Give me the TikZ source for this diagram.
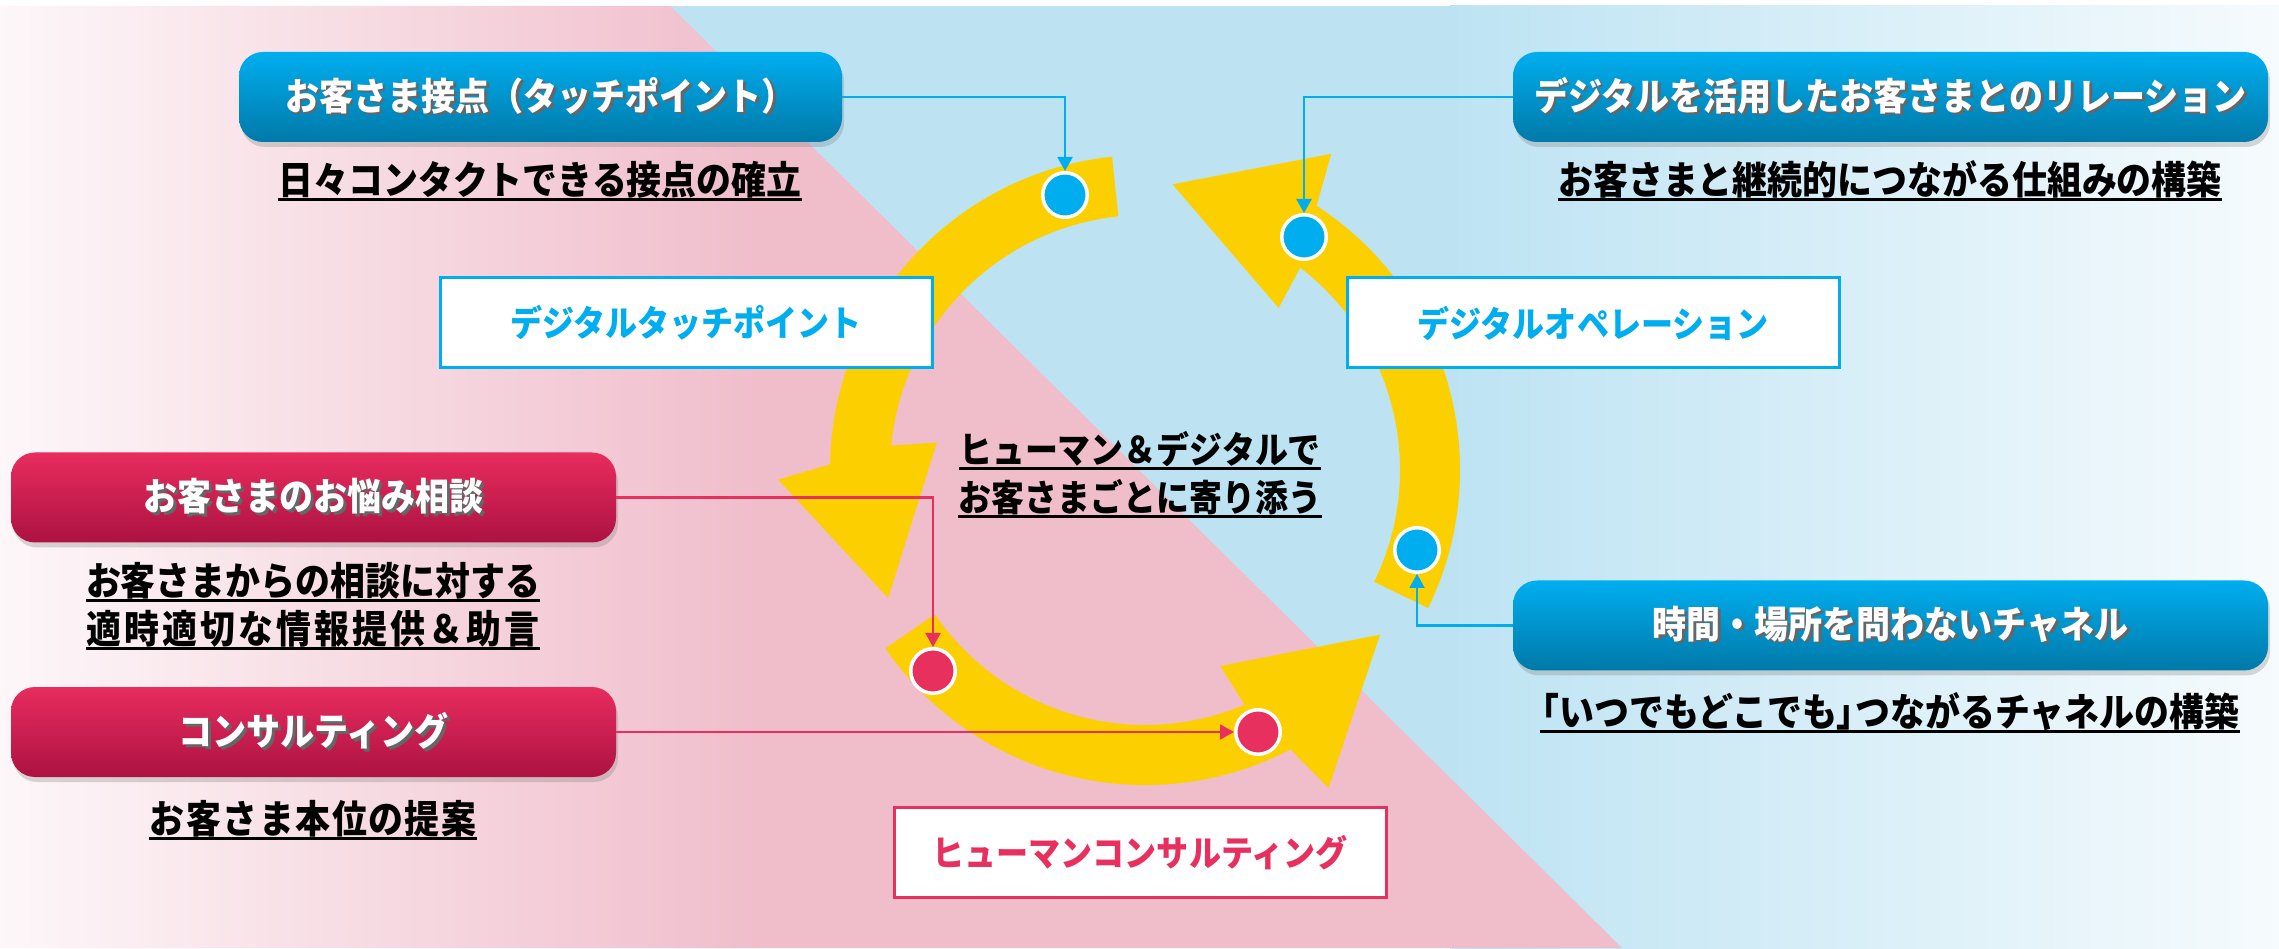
\documentclass[tikz,border=0pt]{standalone}
\usepackage{fontspec}
\setmainfont{Noto Sans CJK JP}
\newfontfamily\cjkc{Noto Sans CJK JP}[FakeStretch=0.9]
\usetikzlibrary{arrows.meta,shadows,calc}
\definecolor{cyanA}{HTML}{00AEEF}
\definecolor{cyanB}{HTML}{0079A8}
\definecolor{roseA}{HTML}{E82C5E}
\definecolor{roseB}{HTML}{AC1242}
\definecolor{rose}{HTML}{E8305E}
\definecolor{bgpink}{HTML}{F0BDCB}
\definecolor{pinkEnd}{HTML}{FDF7F9}
\definecolor{bgblue}{HTML}{BDE3F3}
\definecolor{blueEnd}{HTML}{F6FBFD}
\definecolor{ringc}{HTML}{FCD000}
\newcommand\shtxt[1]{\makebox[0pt][l]{\hspace{1.3pt}\raisebox{-1.3pt}{\color{black!60}#1}}#1}
\begin{document}
\begin{tikzpicture}[x=0.5pt,y=0.5pt,
  headbox/.style={rounded corners=12pt, inner sep=0pt, text=white,
    minimum width=#1, minimum height=45pt,
    font=\cjkc\bfseries\fontsize{18.9pt}{22pt}\selectfont,
    drop shadow={shadow xshift=1pt,shadow yshift=-2.5pt,opacity=0.3}},
  bluebox/.style={headbox=#1, top color=cyanA, bottom color=cyanB},
  pinkbox/.style={headbox=#1, top color=roseA, bottom color=roseB},
  labelbox/.style={draw=#1, fill=white, line width=1.5pt, text=#1, inner sep=0pt,
    minimum width=246pt, minimum height=45pt,
    font=\cjkc\bfseries\fontsize{17.8pt}{21pt}\selectfont},
  sub/.style={inner sep=0pt, anchor=base, font=\cjkc\bfseries\fontsize{19.4pt}{23pt}\selectfont},
  ctr/.style={inner sep=0pt, anchor=base, font=\cjkc\bfseries\fontsize{18.3pt}{22pt}\selectfont},
  uline/.style={line width=1.5pt, black},
  dot/.style={circle, fill=#1, draw=white, line width=1.75pt, minimum size=22.25pt, inner sep=0pt},
  conn/.style={draw=#1, line width=1.1pt, -{Triangle[length=7pt,width=7.5pt]}}
]
\useasboundingbox (0,0) rectangle (2279,948);
% background
\fill[white] (0,0) rectangle (2279,948);
\fill[bgblue] (0,0) rectangle (2279,942);
\shade[left color=bgblue, right color=blueEnd] (1450,0) rectangle (2279,942);
\begin{scope}
  \clip (0,0) -- (0,942) -- (670,942) -- (1622,0) -- cycle;
  \fill[bgpink] (0,0) rectangle (1700,942);
  \shade[left color=pinkEnd, right color=bgpink] (0,0) rectangle (760,942);
\end{scope}
% circular arrows
\begin{scope}[shift={(1145,478)}]
\foreach \T in {96,214.5,334}{
  \fill[ringc] ({\T}:315) arc[start angle=\T, end angle=\T+83, radius=315]
    -- ({\T+85.5}:367) -- ({\T+110.5}:287) -- ({\T+76.5}:210) -- ({\T+78.5}:255)
    arc[start angle=\T+78.5, end angle=\T, radius=255] -- cycle;
}
\end{scope}
% header boxes
\node[bluebox=301.5pt] (bt) at (540.5,851) {\shtxt{お客さま接点（タッチポイント）}};
\node[bluebox=377.5pt] (bt2) at (1890.5,851) {\shtxt{デジタルを活用したお客さまとのリレーション}};
\node[bluebox=377.5pt] (br) at (1890.5,322.5) {\shtxt{時間・場所を問わないチャネル}};
\node[pinkbox=302.5pt] (pk1) at (313.5,450.5) {\shtxt{お客さまのお悩み相談}};
\node[pinkbox=302.5pt] (pk2) at (313.5,216) {\shtxt{コンサルティング}};
% label boxes
\node[labelbox=cyanA] (dtp) at (686,625) {デジタルタッチポイント};
\node[labelbox=cyanA] (dop) at (1593,625) {デジタルオペレーション};
\node[labelbox=rose] (hc) at (1140,95.5) {ヒューマンコンサルティング};
% subtitles
\node[sub] (st1) at (540,753) {日々コンタクトできる接点の確立};
\node[sub] (st2) at (1890,753) {お客さまと継続的につながる仕組みの構築};
\node[sub] (sp1a) at (313,352) {お客さまからの相談に対する};
\node[sub] (sp1b) at (313,304) {\addfontfeature{LetterSpace=8}適時適切な情報提供＆助言\hspace{-0.08em}};
\node[sub] (sp2) at (313,115) {\addfontfeature{LetterSpace=4}お客さま本位の提案\hspace{-0.04em}};
\node[sub] (sr) at (1890,222) {\hspace{-0.42em}「いつでもどこでも」\hspace{-0.42em}つながるチャネルの構築};
\node[ctr] (ct1) at (1140,484) {ヒューマン＆デジタルで};
\node[ctr] (ct2) at (1140,436) {お客さまごとに寄り添う};
\foreach \n in {st1,st2,sp1a,sp1b,sp2,sr,ct1,ct2}{
  \draw[uline] ([yshift=-2.5pt]\n.base west) -- ([yshift=-2.5pt]\n.base east);
}
% dots and connectors
\coordinate (d1c) at (1065,753);
\coordinate (d2c) at (1304,711);
\coordinate (d3c) at (1417,398);
\coordinate (d4c) at (933,277);
\coordinate (d5c) at (1258,216);
\node[dot=cyanA] (d1) at (d1c) {};
\node[dot=cyanA] (d2) at (d2c) {};
\node[dot=cyanA] (d3) at (d3c) {};
\node[dot=rose] (d4) at (d4c) {};
\node[dot=rose] (d5) at (d5c) {};
\draw[conn=cyanA] (bt.east) -| (d1.north);
\draw[conn=cyanA] (bt2.west) -| (d2.north);
\draw[conn=cyanA] (br.west) -| (d3.south);
\draw[conn=rose] (pk1.east) -| (d4.north);
\draw[conn=rose] (pk2.east) -- (d5.west);
\end{tikzpicture}
\end{document}
